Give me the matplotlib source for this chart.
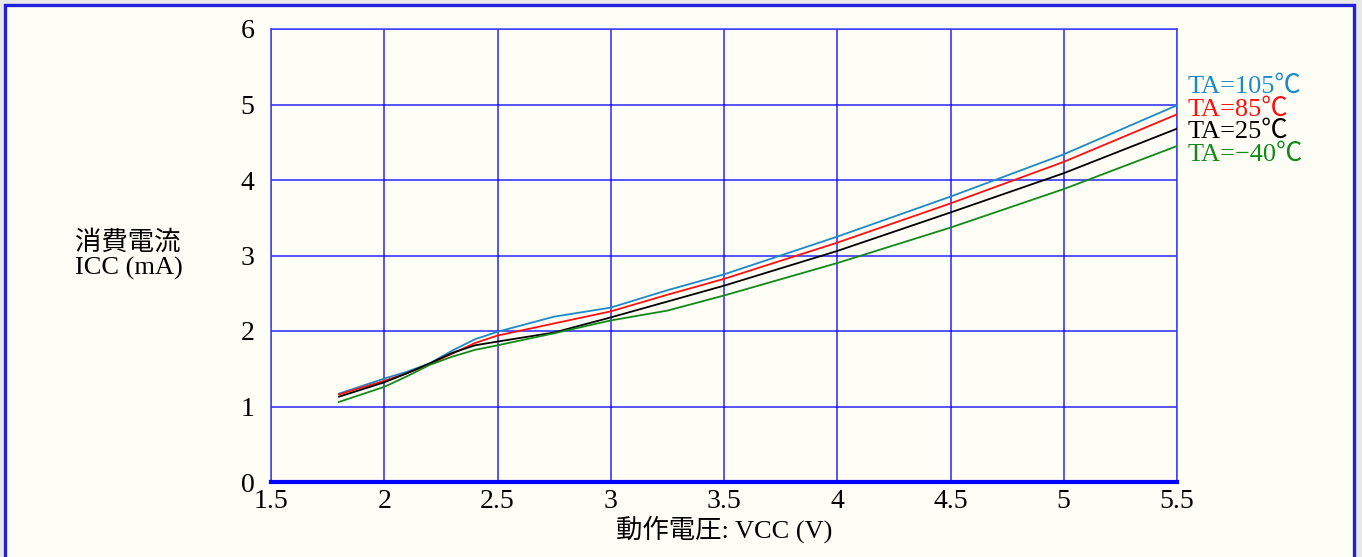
import numpy as np
import matplotlib.pyplot as plt
from matplotlib.patches import Rectangle

# Data (Vcc in V, Icc in mA)
vcc = [1.8, 2.0, 2.1, 2.2, 2.3, 2.4, 2.5, 2.75, 3.0, 3.25, 3.5, 4.0, 4.5, 5.0, 5.5]
icc_105 = [1.17, 1.37, 1.46, 1.57, 1.74, 1.89, 1.99, 2.19, 2.31, 2.54, 2.75, 3.25, 3.78, 4.34, 4.99]
icc_85 = [1.16, 1.34, 1.44, 1.56, 1.70, 1.84, 1.94, 2.10, 2.26, 2.48, 2.69, 3.17, 3.69, 4.24, 4.87]
icc_25 = [1.13, 1.32, 1.44, 1.57, 1.71, 1.81, 1.86, 1.98, 2.18, 2.39, 2.60, 3.06, 3.57, 4.09, 4.68]
icc_m40 = [1.06, 1.26, 1.40, 1.55, 1.66, 1.75, 1.81, 1.97, 2.14, 2.27, 2.47, 2.90, 3.37, 3.88, 4.45]

series = [
    ("TA=105℃", icc_105, "#1b8ac9"),
    ("TA=85℃", icc_85, "#ff1010"),
    ("TA=25℃", icc_25, "#000000"),
    ("TA=−40℃", icc_m40, "#12891a"),
]
label_y = [5.23, 4.93, 4.64, 4.33]

xticks = [1.5, 2, 2.5, 3, 3.5, 4, 4.5, 5, 5.5]
xtick_labels = ["1.5", "2", "2.5", "3", "3.5", "4", "4.5", "5", "5.5"]
yticks = [0, 1, 2, 3, 4, 5, 6]

FONT = ["Liberation Serif", "Noto Sans CJK JP", "DejaVu Sans"]
plt.rcParams["font.family"] = FONT
FS = 19

W, H = 1362, 557
fig = plt.figure(figsize=(W / 100, H / 100), dpi=100)
fig.patch.set_facecolor("#e8e8e8")

# panel with blue frame
panel = Rectangle((5 / W, -0.05), 1349 / W, 1.05 - 5 / H, transform=fig.transFigure,
                  facecolor="#fefef6", edgecolor="#2020dd", linewidth=2.4, zorder=-10)
fig.patches.append(panel)

ax = fig.add_axes([271 / W, 1 - 482 / H, 906 / W, 453 / H])
ax.set_zorder(5)
ax.set_facecolor("#fefef6")

for name, vals, col in series:
    ax.plot(vcc, vals, color=col, linewidth=1.3, zorder=3)

ax.set_xlim(1.5, 5.5)
ax.set_ylim(0, 6)
ax.set_xticks(xticks)
ax.set_xticklabels(xtick_labels)
ax.set_yticks(yticks)
ax.tick_params(length=0, labelsize=20)
ax.tick_params(axis="x", pad=5)
ax.tick_params(axis="y", pad=12)
ax.grid(True, color="#0000ff", linewidth=1.1, alpha=0.85)
for side in ["top", "left", "right"]:
    ax.spines[side].set_color("#4040ff")
    ax.spines[side].set_linewidth(1.1)
ax.spines["bottom"].set_color("#0000ff")
ax.spines["bottom"].set_linewidth(3.0)

for (name, vals, col), ly in zip(series, label_y):
    ax.text(5.545, ly, name, color=col, fontsize=FS, va="center", ha="left",
            clip_on=False)

ax.set_xlabel("動作電圧: VCC (V)", fontsize=FS, labelpad=1)
fig.text(75 / W, 1 - 255 / H, "消費電流\nICC (mA)", fontsize=FS, ha="left",
         va="center", linespacing=1.15)

fig.savefig("out.png", dpi=100, facecolor=fig.get_facecolor())
